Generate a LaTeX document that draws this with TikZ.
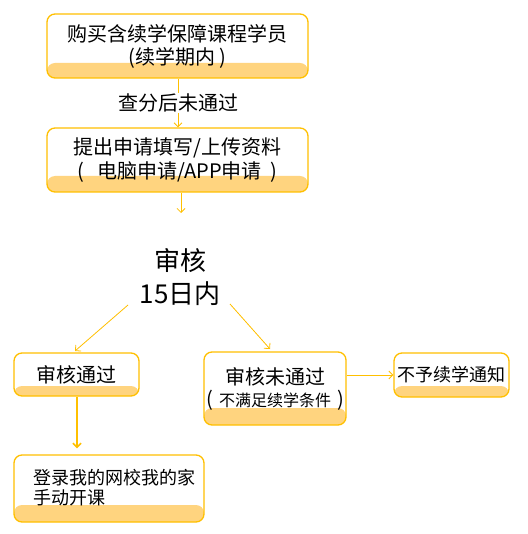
\documentclass[tikz,border=0pt]{standalone}
\usepackage{fontspec}
\setmainfont{Noto Sans CJK SC}
\usetikzlibrary{arrows.meta}
\definecolor{edgec}{HTML}{FFC000}
\definecolor{bandc}{HTML}{FFD47F}
\begin{document}
\begin{tikzpicture}[x=1pt,y=-1pt,
  box/.style={draw=edgec,line width=1.3pt,rounded corners=8pt,inner sep=0pt,align=center,
    path picture={\fill[bandc] (path picture bounding box.south west) rectangle ([yshift=#1]path picture bounding box.south east);}},
  arr/.style={draw=edgec,line width=0.8pt,-{Straight Barb[length=4pt,width=8pt]}},
  lbl/.style={inner sep=1pt,fill=white}]
\useasboundingbox[fill=white] (0,0) rectangle (527,534);
% boxes
\node[box=15pt,minimum width=261pt,minimum height=64pt,font=\fontsize{20}{23}\selectfont] (buy) at (177.5,46)
  {购买含续学保障课程学员\\(续学期内 )};
\node[box=16pt,minimum width=261pt,minimum height=64pt,font=\fontsize{20}{24}\selectfont] (apply) at (177.5,160)
  {提出申请填写/上传资料\\(\hspace{13pt}电脑申请/APP申请\hspace{9pt})\hspace{18pt}};
\node[align=center,font=\fontsize{26}{33}\selectfont] (review) at (180,277) {审核\\15日内};
\node[box=10pt,minimum width=125pt,minimum height=43pt,font=\fontsize{20}{24}\selectfont] (pass) at (76.5,374.5) {审核通过};
\node[box=17pt,minimum width=142pt,minimum height=73pt] (fail) at (275,388.5)
  {\fontsize{20}{24}\selectfont 审核未通过\\[3pt]\fontsize{20}{20}\selectfont(\hspace{6pt}{\fontsize{16}{18}\selectfont 不满足续学条件}\hspace{6pt})};
\node[box=11pt,minimum width=115pt,minimum height=44pt,font=\fontsize{18}{22}\selectfont] (notify) at (451.5,375) {不予续学通知};
\node[box=17pt,minimum width=190pt,minimum height=67pt] (login) at (109,488.5) {};
\node[anchor=west,align=left,inner sep=0pt,font=\fontsize{18}{20}\selectfont] (logintext) at (33,488) {登录我的网校我的家\\手动开课};
% connectors
\coordinate (a1) at (181,213);
\coordinate (l0) at (128,305);
\coordinate (l1) at (75,351);
\coordinate (r0) at (230,304);
\coordinate (r1) at (270,349);
\draw[arr] (buy.south -| 178,0) -- (apply.north -| 178,0)
  node[midway,lbl,font=\fontsize{20}{24}\selectfont] (lab) {查分后未通过};
\draw[arr] (apply.south -| a1) -- (a1);
\draw[arr] (l0) -- (l1);
\draw[arr] (r0) -- (r1);
\draw[arr] (fail.east |- notify.west) -- (notify.west);
\draw[arr,line width=1.6pt,shorten >=6pt] (pass.south -| 77,0) -- (login.north -| 77,0);
\end{tikzpicture}
\end{document}
